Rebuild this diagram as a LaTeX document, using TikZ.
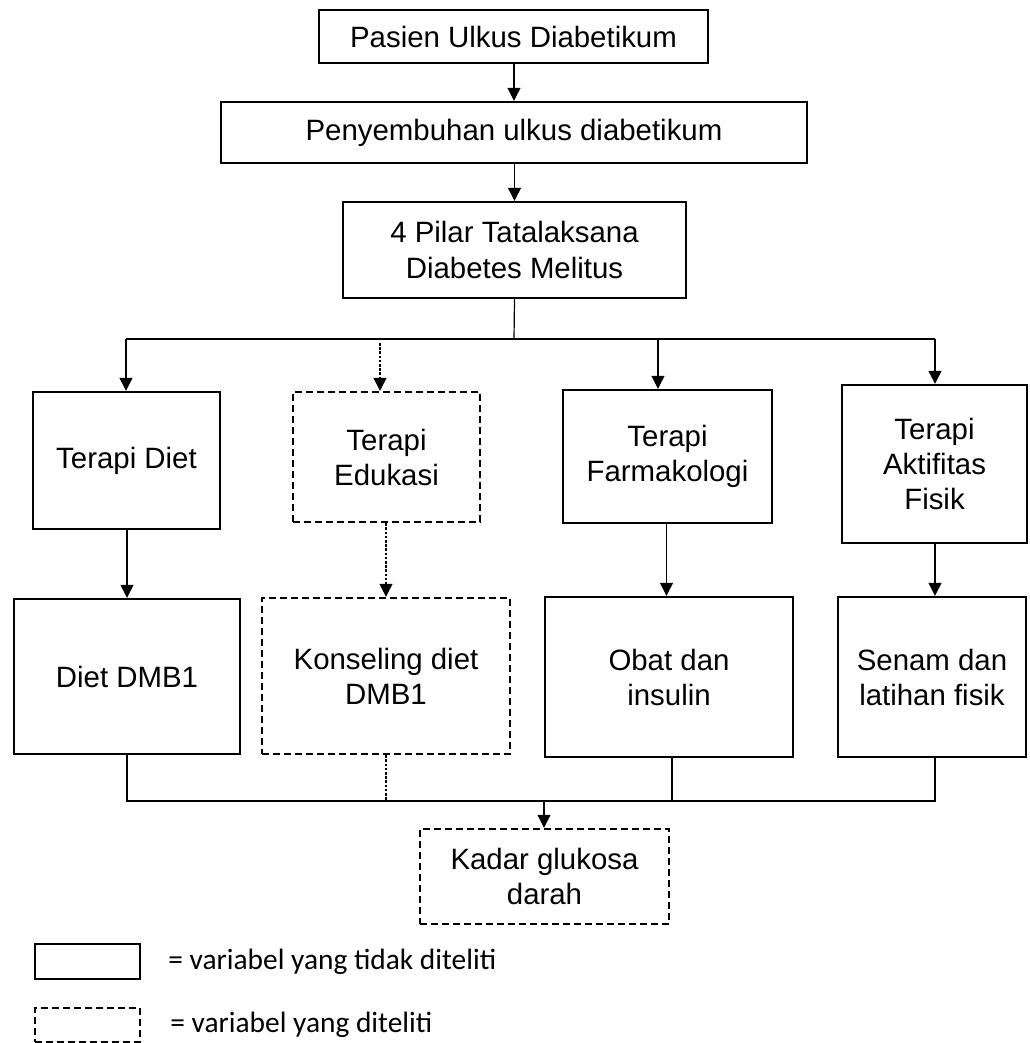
\documentclass[tikz,border=0pt]{standalone}
\usepackage{fontspec}
\setmainfont{Liberation Sans}
\newfontfamily\legendfont{Carlito}
\usetikzlibrary{arrows.meta}
\tikzset{
    box/.style={draw, line width=1.2pt, align=center, inner sep=0pt,
        font=\fontsize{14.7}{17.5}\selectfont},
    dbox/.style={box, dash pattern=on 3.5pt off 2pt},
    link/.style={line width=0.6pt},
    dlink/.style={link, dash pattern=on 1.3pt off 0.8pt},
    arr/.style={link, -{Triangle[width=6.5pt,length=6.5pt]}},
    darr/.style={dlink, -{Triangle[width=6.5pt,length=6.5pt]}},
}
\begin{document}
\begin{tikzpicture}[x=0.5pt, y=-0.5pt]
\useasboundingbox (0,0) rectangle (1029,1043);
\def\topBus{339}
\def\botBus{801}
% top chain
\node[box, minimum width=194.5pt, minimum height=26.5pt] (pasien) at (513.5,36.5) {Pasien Ulkus Diabetikum};
\node[box, minimum width=293pt, minimum height=30.5pt] (sembuh) at (514,132.5) {Penyembuhan ulkus diabetikum};
\node[box, minimum width=171.5pt, minimum height=48pt] (pilar) at (514.5,250) {4 Pilar Tatalaksana\\[0.5pt]Diabetes Melitus};
% four pillars
\node[box, minimum width=93.5pt, minimum height=68.5pt] (diet) at (126.5,460.5) {Terapi Diet};
\node[dbox, minimum width=93.5pt, minimum height=65pt] (edukasi) at (386.5,457) {Terapi\\Edukasi};
\node[box, minimum width=104.5pt, minimum height=66.5pt] (farmako) at (667.5,456.5) {\raisebox{-2pt}{Terapi}\\\raisebox{-2pt}{Farmakologi}};
\node[box, minimum width=92.5pt, minimum height=79pt] (aktif) at (934.5,464) {Terapi\\Aktifitas\\Fisik};
% second row
\node[box, minimum width=113pt, minimum height=77.5pt] (dmb) at (127,676.5) {Diet DMB1};
\node[dbox, minimum width=124pt, minimum height=78pt] (konsel) at (386,676) {Konseling diet\\DMB1};
\node[box, minimum width=124pt, minimum height=80pt] (obat) at (669,677) {Obat dan\\insulin};
\node[box, minimum width=94pt, minimum height=80pt] (senam) at (932,677) {Senam dan\\latihan fisik};
% outcome
\node[dbox, minimum width=124.5pt, minimum height=47.5pt] (kadar) at (544.5,876.5) {Kadar glukosa\\darah};
% bus points
\coordinate (split) at (514,\topBus);
\coordinate (t1) at (126,\topBus);
\coordinate (t2) at (380,343);
\coordinate (t3) at (658,\topBus);
\coordinate (t4) at (935,\topBus);
\coordinate (b1) at (127,\botBus);
\coordinate (b2) at (386,\botBus);
\coordinate (b4) at (935,\botBus);
\coordinate (join) at (544,\botBus);
% connectors
\draw[arr] (pasien.south -| sembuh.north) -- (sembuh.north);
\draw[arr] (pilar.north |- sembuh.south) -- (pilar.north);
\draw[link] (pilar.south) -- (split);
\draw[link] (t1) -- (t4);
\draw[arr] (t1) -- (t1 |- diet.north);
\draw[darr] (t2) -- (t2 |- edukasi.north);
\draw[arr] (t3) -- (t3 |- farmako.north);
\draw[arr] (t4) -- (t4 |- aktif.north);
\draw[arr] (b1 |- diet.south) -- (b1 |- dmb.north);
\draw[darr] (edukasi.south -| b2) -- (konsel.north);
\draw[arr] ([xshift=-0.5pt]farmako.south) -- ([xshift=-0.5pt]farmako.south |- obat.north);
\draw[arr] (b4 |- aktif.south) -- (b4 |- senam.north);
\draw[link] (b1 |- dmb.south) -- (b1) -- (b4) -- (b4 |- senam.south);
\draw[dlink] (konsel.south) -- (b2);
\draw[link] ([xshift=1.5pt]obat.south) -- ++(0,42);
\draw[arr] (join) -- (join |- kadar.north);
% legend
\node[box, minimum width=52.5pt, minimum height=17.5pt] (solidkey) at (87.5,961.5) {};
\node[dbox, minimum width=52.5pt, minimum height=17pt] (dashkey) at (87.5,1025) {};
\node[anchor=west, inner sep=0pt, font=\legendfont\fontsize{14.7}{17}\selectfont] (solidtext) at (168,962) {= variabel yang tidak diteliti};
\node[anchor=west, inner sep=0pt, font=\legendfont\fontsize{14.7}{17}\selectfont] (dashtext) at (170,1025) {= variabel yang diteliti};
\end{tikzpicture}
\end{document}
